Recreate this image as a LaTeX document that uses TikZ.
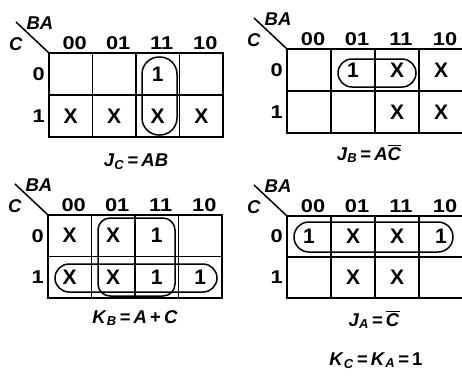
\documentclass[tikz,border=0pt]{standalone}
\usepackage{graphicx}
\usepackage{fontspec}
\setmainfont{Liberation Sans}
\newcommand{\cbar}{\ensuremath{\overline{\mbox{\textit{C}}}}}
\newcommand{\wide}[1]{\scalebox{1.18}[1]{#1}}
\tikzset{
  grid/.style={line width=1.7pt, line cap=rect},
  diag/.style={line width=1.5pt},
  grp/.style={line width=1.5pt},
  lbl/.style={inner sep=0pt, font=\fontsize{18.5}{20}\selectfont\bfseries},
  cell/.style={inner sep=0pt, font=\fontsize{21}{23}\selectfont\bfseries},
  ttl/.style={inner sep=0pt, anchor=base, font=\fontsize{18.5}{20}\selectfont\bfseries},
}
% #1 name, #2 x0, #3 y0, #4 cell w, #5 cell h
\newcommand{\KMap}[5]{%
 \begin{scope}[shift={(#2,#3)}]
  \draw[grid] (0,0) rectangle (4*#4,2*#5);
  \draw[grid] (0,#5) -- (4*#4,#5);
  \foreach \i in {1,2,3} \draw[grid] (\i*#4,0) -- (\i*#4,2*#5);
  \coordinate (#1corner) at (0,0);
  \coordinate (#1tip) at (-33,-31);
  \draw[diag] (#1corner) -- (#1tip);
  \node[lbl] (#1BA) at (-9,-30) {\textit{BA}};
  \node[lbl] (#1C) at (-33,-9) {\textit{C}};
  \foreach \lab [count=\k] in {00,01,11,10}
    \node[lbl, anchor=base] (#1col\k) at ({(\k-0.5)*#4+4},-4) {\wide{\lab}};
  \node[lbl, anchor=east] (#1row0) at (-4,0.5*#5) {\wide{0}};
  \node[lbl, anchor=east] (#1row1) at (-4,1.5*#5) {\wide{1}};
 \end{scope}}
\begin{document}
\begin{tikzpicture}[x=1pt,y=-1pt]
\useasboundingbox (0,0) rectangle (462,378);

% ---------- Map 1 : J_C ----------
\KMap{a}{49}{53}{43.5}{42}
\begin{scope}[shift={(49,53)}]
  \node[cell] (a02) at (2.5*43.5,0.5*42) {1};
  \node[cell] (a10) at (0.5*43.5,1.5*42) {X};
  \node[cell] (a11) at (1.5*43.5,1.5*42) {X};
  \node[cell] (a12) at (2.5*43.5,1.5*42) {X};
  \node[cell] (a13) at (3.5*43.5,1.5*42) {X};
  \draw[grp, rounded corners=17pt] (93,4) rectangle (128,82);
\end{scope}
\node[ttl] (ta) at (136,166) {\textit{J}\textsubscript{\textit{C}}\,=\,\textit{AB}};

% ---------- Map 2 : J_B ----------
\KMap{b}{287}{49}{44}{42}
\begin{scope}[shift={(287,49)}]
  \node[cell] (b01) at (1.5*44,0.5*42) {1};
  \node[cell] (b02) at (2.5*44,0.5*42) {X};
  \node[cell] (b03) at (3.5*44,0.5*42) {X};
  \node[cell] (b12) at (2.5*44,1.5*42) {X};
  \node[cell] (b13) at (3.5*44,1.5*42) {X};
  \draw[grp, rounded corners=14pt] (51,10) rectangle (129,38);
\end{scope}
\node[ttl] (tb) at (369,160) {\textit{J}\textsubscript{\textit{B}}\,=\,\textit{A}\cbar};

% ---------- Map 3 : K_B ----------
\KMap{c}{48}{215}{43.5}{41.5}
\begin{scope}[shift={(48,215)}]
  \node[cell] (c00) at (0.5*43.5,0.5*41.5) {X};
  \node[cell] (c01) at (1.5*43.5,0.5*41.5) {X};
  \node[cell] (c02) at (2.5*43.5,0.5*41.5) {1};
  \node[cell] (c10) at (0.5*43.5,1.5*41.5) {X};
  \node[cell] (c11) at (1.5*43.5,1.5*41.5) {X};
  \node[cell] (c12) at (2.5*43.5,1.5*41.5) {1};
  \node[cell] (c13) at (3.5*43.5,1.5*41.5) {1};
  \draw[grp, rounded corners=12pt] (50,3) rectangle (127,81);
  \draw[grp, rounded corners=14pt] (7,49) rectangle (169,77);
\end{scope}
\node[ttl] (tc) at (135,323) {\textit{K}\textsubscript{\textit{B}}\,=\,\textit{A}\,+\,\textit{C}};

% ---------- Map 4 : J_A ----------
\KMap{d}{287}{216}{44}{41}
\begin{scope}[shift={(287,216)}]
  \node[cell] (d00) at (0.5*44,0.5*41) {1};
  \node[cell] (d01) at (1.5*44,0.5*41) {X};
  \node[cell] (d02) at (2.5*44,0.5*41) {X};
  \node[cell] (d03) at (3.5*44,0.5*41) {1};
  \node[cell] (d11) at (1.5*44,1.5*41) {X};
  \node[cell] (d12) at (2.5*44,1.5*41) {X};
  \draw[grp, rounded corners=15pt] (7,6) rectangle (166,36);
\end{scope}
\node[ttl] (td) at (374,326) {\textit{J}\textsubscript{\textit{A}}\,=\,\cbar};

\node[ttl] (tk) at (376,365) {\textit{K}\textsubscript{\textit{C}}\,=\,\textit{K}\textsubscript{\textit{A}}\,=\,1};
\end{tikzpicture}
\end{document}
